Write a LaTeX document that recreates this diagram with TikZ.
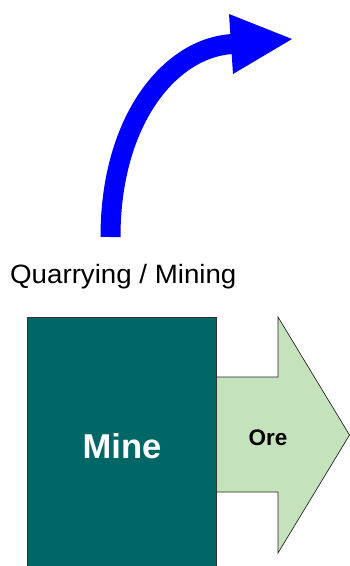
\documentclass[tikz,border=0pt]{standalone}
\usepackage{fontspec}
\setmainfont{Liberation Sans}
\definecolor{minecol}{HTML}{006666}
\definecolor{orecol}{HTML}{C4E3BC}
\definecolor{flowblue}{HTML}{0000FF}
\begin{document}
\begin{tikzpicture}[x=1pt,y=-1pt,
  label text/.style={inner sep=0pt, font=\fontsize{26.5}{31}\selectfont},
  minebox/.style={draw=black!80, line width=0.8pt, fill=minecol},
  orearrow/.style={draw=black!85, line width=0.7pt, fill=orecol, line join=miter}]
\useasboundingbox (0,0) rectangle (350,566);
% curved blue arrow
\coordinate (cs) at (110.5,237);
\coordinate (ce) at (232,44);
\draw[flowblue, line width=20pt] (cs) .. controls (110.5,120) and (170,48) .. (ce);
\coordinate (hb1) at (229,14);
\coordinate (htip) at (292,39);
\coordinate (hb2) at (233,74);
\fill[flowblue] (hb1) -- (htip) -- (hb2) -- cycle;
% label
\node[label text, anchor=base west] (quarry) at (10,283) {\scalebox{1.045}[1]{Quarrying / Mining}};
% ore arrow
\draw[orearrow] (216,377) -- (278,377) -- (278,317) -- (349.5,435) -- (278,553) -- (278,492) -- (216,492);
% mine box
\path[minebox] (27,317) rectangle (216,600);
\node[inner sep=0pt, anchor=base, text=white, font=\fontsize{34.5}{40}\selectfont\bfseries] (mine) at (122,458) {Mine};
\node[inner sep=0pt, anchor=base, font=\fontsize{22.5}{27}\selectfont\bfseries] (ore) at (268,445) {Ore};
\end{tikzpicture}
\end{document}
